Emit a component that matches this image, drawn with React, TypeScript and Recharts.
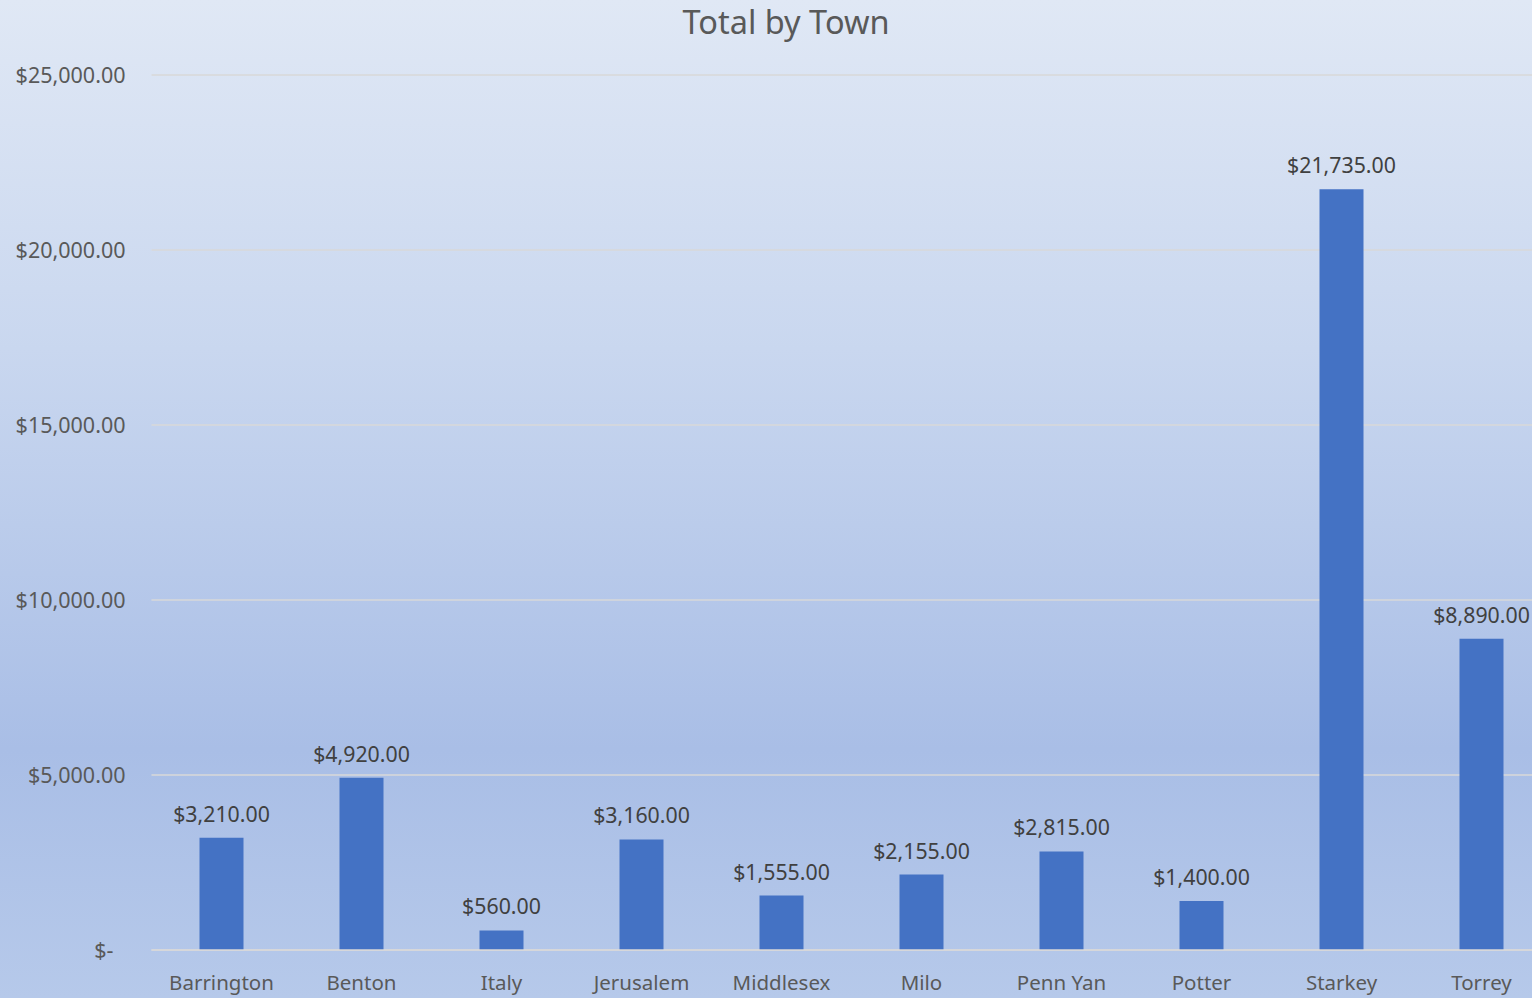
import React from "react";
import { BarChart, Bar, XAxis, YAxis, CartesianGrid, LabelList } from "recharts";

const towns = ["Barrington", "Benton", "Italy", "Jerusalem", "Middlesex", "Milo", "Penn Yan", "Potter", "Starkey", "Torrey"];
const totals = [3210, 4920, 560, 3160, 1555, 2155, 2815, 1400, 21735, 8890];
const yTicks = [0, 5000, 10000, 15000, 20000, 25000];
const title = "Total by Town";

const data = towns.map((t, i) => ({ town: t, total: totals[i] }));

const fmt = (v: number) =>
  v === 0
    ? "$-"
    : "$" + v.toLocaleString("en-US", { minimumFractionDigits: 2, maximumFractionDigits: 2 });

const FONT = "'Noto Sans', sans-serif";

const YTick = (props: any) => {
  const { x, y, payload } = props;
  const isZero = payload.value === 0;
  return (
    <text x={isZero ? x - 12 : x} y={y} dy="0.35em" textAnchor="end" fill="#595959" fontSize={21.5} fontFamily={FONT}>
      {fmt(payload.value)}
    </text>
  );
};

export default function App() {
  return (
    <div
      style={{
        position: "absolute",
        left: 0,
        top: 0,
        width: 1532,
        height: 998,
        overflow: "hidden",
        background: "linear-gradient(to bottom, #e0e8f5 0%, #c9d7ef 35%, #a9bee6 75%, #b6c9ea 100%)",
      }}
    >
      <div
        style={{
          position: "absolute",
          left: 0,
          width: 1572,
          top: 0,
          textAlign: "center",
          fontFamily: FONT,
          fontSize: 32.5,
          color: "#595959",
          lineHeight: "44px",
        }}
      >
        {title}
      </div>
      <div style={{ position: "absolute", left: 0, top: 0 }}>
        <BarChart
          width={1560}
          height={998}
          data={data}
          margin={{ top: 75, right: 8.5, left: 0, bottom: 0 }}
        >
          <CartesianGrid vertical={false} stroke="#d9d9d9" strokeWidth={1.5} />
          <XAxis
            dataKey="town"
            height={48}
            axisLine={{ stroke: "#d9d9d9", strokeWidth: 1.5 }}
            tickLine={false}
            tickSize={0}
            tickMargin={25}
            tick={{ fill: "#595959", fontSize: 20.5, fontFamily: FONT }}
            interval={0}
          />
          <YAxis
            width={151.5}
            domain={[0, 25000]}
            ticks={yTicks}
            axisLine={false}
            tickLine={false}
            tickSize={0}
            tickMargin={26}
            tick={<YTick />}
            interval={0}
          />
          <Bar dataKey="total" fill="#4472c4" barSize={44} isAnimationActive={false}>
            <LabelList
              dataKey="total"
              position="top"
              offset={16}
              formatter={(v: any) => fmt(Number(v))}
              fill="#404040"
              fontSize={21.3}
              fontFamily={FONT}
            />
          </Bar>
        </BarChart>
      </div>
    </div>
  );
}
